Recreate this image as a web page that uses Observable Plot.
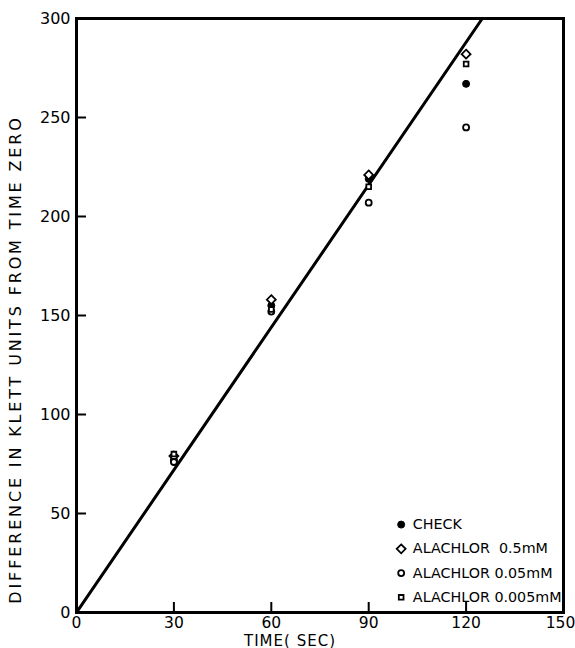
<!DOCTYPE html>
<html>
<head>
<meta charset="utf-8">
<script src="https://cdn.jsdelivr.net/npm/d3@7"></script>
<script src="https://cdn.jsdelivr.net/npm/@observablehq/plot@0.6"></script>
<style>
  html, body { margin: 0; padding: 0; background: #fff; }
  #chart { width: 575px; height: 648px; overflow: hidden; }
  svg { font-family: "DejaVu Sans", sans-serif; }
</style>
</head>
<body>
<div id="chart"></div>
<script>
// ---- data ----
const times = [30, 60, 90, 120];
const check = [77, 155, 219, 267];
const alachlor05 = [79, 158, 221, 282];
const alachlor005 = [76, 152, 207, 245];
const alachlor0005 = [80, 153, 215, 277];
const fitX = [0, 125];
const fitY = [0, 300];
const xTicks = [0, 30, 60, 90, 120, 150];
const yTicks = [0, 50, 100, 150, 200, 250, 300];
const seriesNames = ["CHECK", "ALACHLOR  0.5mM", "ALACHLOR 0.05mM", "ALACHLOR 0.005mM"];
const xTitle = "TIME( SEC)";
const yTitle = "DIFFERENCE IN KLETT UNITS FROM TIME ZERO";

const seriesValues = [check, alachlor05, alachlor005, alachlor0005];
const styles = [
  {symbol: "circle", fill: "black", stroke: "black", r: 3.5, strokeWidth: 1},
  {symbol: "diamond2", fill: "white", stroke: "black", r: 4, strokeWidth: 1.8},
  {symbol: "circle", fill: "white", stroke: "black", r: 3, strokeWidth: 1.8},
  {symbol: "square2", fill: "white", stroke: "black", r: 3, strokeWidth: 1.8}
];

const W = 575, H = 648, ML = 76, MR = 12, MT = 18, MB = 36;
const xMax = 150, yMax = 300, tickLen = 10;
const tickY = yMax * tickLen / (H - MT - MB);
const tickX = xMax * tickLen / (W - ML - MR);
const fitLine = fitX.map((x, i) => ({x, y: fitY[i]}));
const legend = seriesNames.map((name, i) => ({name, i}));

const marks = [];
// inward tick marks
marks.push(Plot.ruleX(xTicks.slice(1, -1), {x: d => d, y1: () => 0, y2: () => tickY, stroke: "black", strokeWidth: 2}));
marks.push(Plot.ruleY(yTicks.slice(1, -1), {y: d => d, x1: () => 0, x2: () => tickX, stroke: "black", strokeWidth: 2}));
// fitted line
marks.push(Plot.line(fitLine, {x: "x", y: "y", stroke: "black", strokeWidth: 3, clip: true}));
// points
seriesValues.forEach((vals, s) => {
  const data = times.map((t, i) => ({t, v: vals[i]}));
  const st = styles[s];
  marks.push(Plot.dot(data, {x: "t", y: "v", symbol: () => st.symbol, r: st.r,
    fill: st.fill, stroke: st.stroke, strokeWidth: st.strokeWidth}));
});
// legend (inside plot, lower right)
legend.forEach(d => {
  const st = styles[d.i];
  marks.push(Plot.dot([d], {x: () => 100, y: () => 44.4 - 12.25 * d.i, symbol: () => st.symbol, r: st.r,
    fill: st.fill, stroke: st.stroke, strokeWidth: st.strokeWidth}));
});
marks.push(Plot.text(legend, {x: () => 103.6, y: d => 44.4 - 12.25 * d.i, text: "name",
  textAnchor: "start", fontSize: 14.3, fill: "black", fontFamily: "DejaVu Sans"}));

// axes labels
marks.push(Plot.axisX({ticks: xTicks.slice(0, -1), tickSize: 0, tickPadding: 4, fontSize: 15.5, label: null}));
marks.push(Plot.axisX({ticks: xTicks.slice(-1), tickSize: 0, tickPadding: 4, fontSize: 15.5, label: null, dx: -3}));
marks.push(Plot.axisY({ticks: yTicks, tickSize: 0, tickPadding: 6, fontSize: 16, label: null}));
marks.push(Plot.frame({stroke: "black", strokeWidth: 3}));
// axis titles
marks.push(Plot.text([xTitle], {frameAnchor: "bottom", textAnchor: "middle", dy: 33, dx: -30, fontSize: 15, fill: "black"}));
marks.push(Plot.text([yTitle], {frameAnchor: "left", textAnchor: "middle", rotate: -90, dx: -61, dy: 44,
  fontSize: 16, fill: "black"}));

const chart = Plot.plot({
  width: W,
  height: H,
  marginLeft: ML,
  marginRight: MR,
  marginTop: MT,
  marginBottom: MB,
  x: {domain: [0, xMax]},
  y: {domain: [0, yMax]},
  style: {fontFamily: "DejaVu Sans", color: "black", background: "white", overflow: "visible"},
  marks
});
// widen the lettering of the titles like the original hand lettering
d3.select(chart).selectAll("text").filter(function() { return this.textContent === yTitle; })
  .style("letter-spacing", "2.85px");
d3.select(chart).selectAll("text").filter(function() { return this.textContent === xTitle; })
  .style("letter-spacing", "1px");
document.getElementById("chart").appendChild(chart);
</script>
</body>
</html>
